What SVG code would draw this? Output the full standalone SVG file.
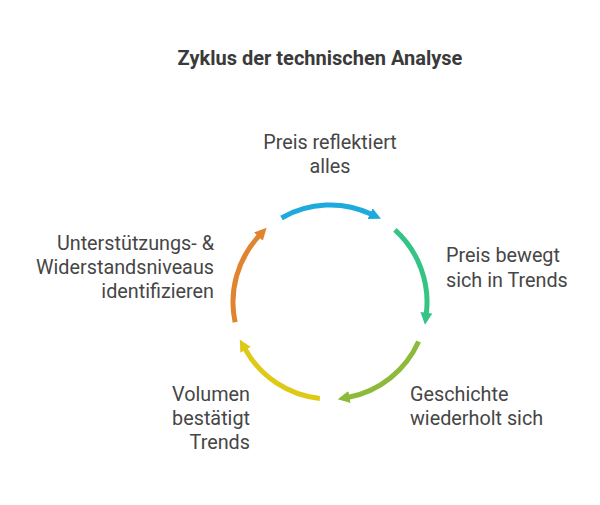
<svg xmlns="http://www.w3.org/2000/svg" width="600" height="505" viewBox="0 0 600 505">
<style>
.t{font-family:Roboto,"Liberation Sans",sans-serif;font-size:19.8px;fill:#464646}
.h{font-family:Roboto,"Liberation Sans",sans-serif;font-size:20px;font-weight:bold;fill:#3a3a3a}
.a{fill:none;stroke-width:5}
</style>
<defs>
<marker id="mb" markerUnits="userSpaceOnUse" markerWidth="14" markerHeight="14" refX="1" refY="6" orient="auto"><path d="M0,0L12,6L0,12z" fill="#1eaadc"/></marker>
<marker id="mg" markerUnits="userSpaceOnUse" markerWidth="14" markerHeight="14" refX="1" refY="6" orient="auto"><path d="M0,0L12,6L0,12z" fill="#33c486"/></marker>
<marker id="mo" markerUnits="userSpaceOnUse" markerWidth="14" markerHeight="14" refX="1" refY="6" orient="auto"><path d="M0,0L12,6L0,12z" fill="#8dba3a"/></marker>
<marker id="my" markerUnits="userSpaceOnUse" markerWidth="14" markerHeight="14" refX="1" refY="6" orient="auto"><path d="M0,0L12,6L0,12z" fill="#dfc917"/></marker>
<marker id="mr" markerUnits="userSpaceOnUse" markerWidth="14" markerHeight="14" refX="1" refY="6" orient="auto"><path d="M0,0L12,6L0,12z" fill="#e0842f"/></marker>
</defs>
<text class="h" x="320" y="65" text-anchor="middle">Zyklus der technischen Analyse</text>
<g id="connectors">
<path class="a" stroke="#1eaadc" marker-end="url(#mb)" d="M281.5,218A97,97 0 0 1 371,214.1"/>
<path class="a" stroke="#33c486" marker-end="url(#mg)" d="M394.9,229.9A97,97 0 0 1 426.3,313.8"/>
<path class="a" stroke="#8dba3a" marker-end="url(#mo)" d="M418.6,341.5A97,97 0 0 1 348.5,397.2"/>
<path class="a" stroke="#dfc917" marker-end="url(#my)" d="M319.9,398.5A97,97 0 0 1 245.1,349"/>
<path class="a" stroke="#e0842f" marker-end="url(#mr)" d="M235.1,322.2A97,97 0 0 1 259.1,235.9"/>
</g>
<g id="n1"><text class="t" x="330" y="149" text-anchor="middle">Preis reflektiert</text><text class="t" x="330" y="173" text-anchor="middle">alles</text></g>
<g id="n2"><text class="t" x="446" y="262">Preis bewegt</text><text class="t" x="446" y="287">sich in Trends</text></g>
<g id="n3"><text class="t" x="410" y="401">Geschichte</text><text class="t" x="410" y="425">wiederholt sich</text></g>
<g id="n4"><text class="t" x="250" y="401" text-anchor="end">Volumen</text><text class="t" x="250" y="425" text-anchor="end">bestätigt</text><text class="t" x="250" y="449" text-anchor="end">Trends</text></g>
<g id="n5"><text class="t" x="214" y="250" text-anchor="end">Unterstützungs- &amp;</text><text class="t" x="214" y="274" text-anchor="end">Widerstandsniveaus</text><text class="t" x="214" y="298" text-anchor="end">identifizieren</text></g>
</svg>
